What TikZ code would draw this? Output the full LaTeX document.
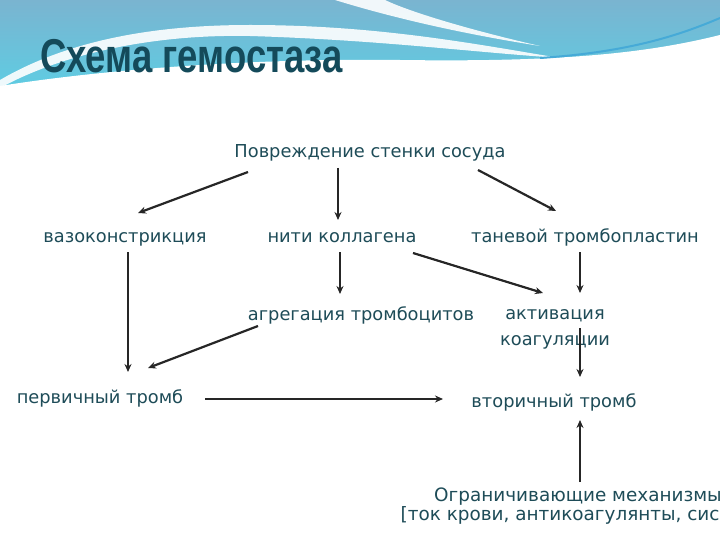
\documentclass[tikz,border=0pt]{standalone}
\usepackage{fontspec}
\setmainfont{DejaVu Sans}
\newfontfamily\titlefont{Liberation Sans}
\usetikzlibrary{arrows.meta}

\definecolor{textoteal}{RGB}{30,76,88}
\definecolor{tituloteal}{RGB}{20,74,90}
\definecolor{cieloA}{RGB}{122,180,208}
\definecolor{cieloB}{RGB}{92,206,228}
\definecolor{cieloC}{RGB}{70,170,215}

\tikzset{
  etiq/.style={text=textoteal, font=\fontsize{17.8}{26}\selectfont, inner sep=0pt, anchor=base, align=center},
  flecha/.style={-{Stealth[length=8pt,width=7pt]}, line width=2.2pt, draw=black!85},
}

\begin{document}
\begin{tikzpicture}[x=1pt,y=-1pt]
		\clip (0,0) rectangle (720,540);

		%Fondo con las ondas azules
		\fill[top color=cieloA, bottom color=cieloB] (0,0) rectangle (720,95);
		\fill[white] (0,86) .. controls (100,70) and (250,58) .. (400,60)
		  .. controls (550,62) and (640,55) .. (720,35) -- (720,540) -- (0,540) -- cycle;
		\fill[white, opacity=0.9] (0,80) .. controls (60,45) and (140,25) .. (250,25)
		  .. controls (380,25) and (480,45) .. (560,58)
		  .. controls (470,52) and (380,40) .. (250,36)
		  .. controls (150,34) and (60,55) .. (0,88) -- cycle;
		\fill[white, opacity=0.9] (335,0) .. controls (400,20) and (470,35) .. (540,46)
		  .. controls (470,30) and (410,12) .. (385,0) -- cycle;
		\draw[cieloC, line width=2pt] (540,58) .. controls (630,52) and (680,35) .. (720,18);

		%Titulo
		\node[anchor=base west, inner sep=0pt, text=tituloteal] (titulo) at (40,73)
		  {\scalebox{0.96}[1.25]{\titlefont\bfseries\fontsize{38}{38}\selectfont Схема гемостаза}};

		%Nodos del esquema
		\node[etiq] (dano) at (370,158) {Повреждение стенки сосуда};
		\node[etiq] (vaso) at (125,242) {вазоконстрикция};
		\node[etiq] (colag) at (342,242) {нити коллагена};
		\node[etiq] (tromboplast) at (585,242) {таневой тромбопластин};
		\node[etiq] (agreg) at (361,320) {агрегация тромбоцитов};
		\node[etiq] (activ) at (555,345) {активация\\коагуляции};
		\node[etiq] (primario) at (100,403) {первичный тромб};
		\node[etiq] (secund) at (554,407) {вторичный тромб};
		\node[etiq, font=\fontsize{18.4}{17}\selectfont] (limit) at (578,520)
		  {Ограничивающие механизмы\\{[}ток крови,  антикоагулянты, систма};

		%Flechas
		\draw[flecha] ([shift={(-122,14)}]dano.base) -- ([shift={(13,-29)}]vaso.base);
		\draw[flecha] ([shift={(-32,10)}]dano.base) -- ([shift={(-4,-22)}]colag.base);
		\draw[flecha] ([shift={(108,12)}]dano.base) -- ([shift={(-29,-31)}]tromboplast.base);
		\draw[flecha] ([shift={(3,10)}]vaso.base) -- ([shift={(28,-31)}]primario.base);
		\draw[flecha] ([shift={(-2,10)}]colag.base) -- ([shift={(-21,-26)}]agreg.base);
		\draw[flecha] ([shift={(71,11)}]colag.base) -- ([shift={(-12,-52)}]activ.base);
		\draw[flecha] ([shift={(-5,10)}]tromboplast.base) -- ([shift={(25,-52)}]activ.base);
		\draw[flecha] ([shift={(-103,6)}]agreg.base) -- ([shift={(48,-35)}]primario.base);
		\draw[flecha] ([shift={(25,-17)}]activ.base) -- ([shift={(26,-30)}]secund.base);
		\draw[flecha] ([shift={(105,-4)}]primario.base) -- ([shift={(-111,-8)}]secund.base);
		\draw[flecha] ([shift={(2,-38)}]limit.base) -- ([shift={(26,13)}]secund.base);

\end{tikzpicture}
\end{document}
